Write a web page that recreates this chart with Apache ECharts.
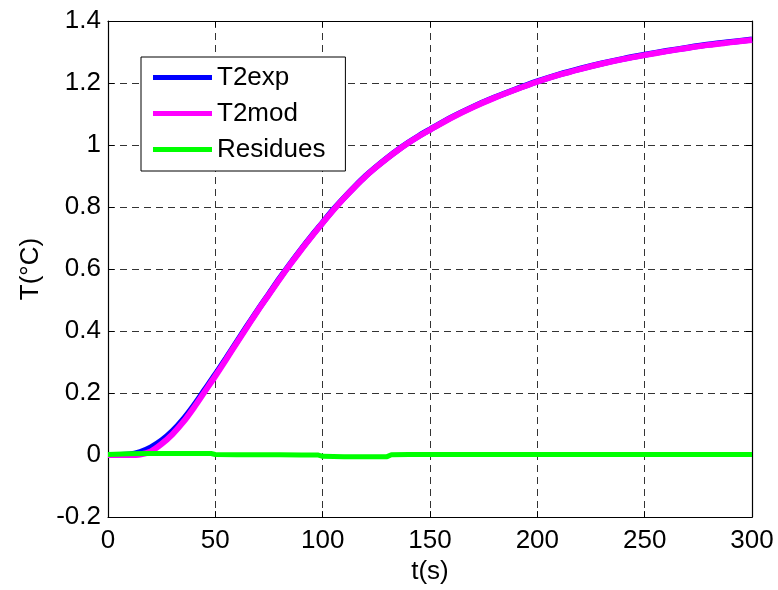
<!DOCTYPE html>
<html>
<head>
<meta charset="utf-8">
<script src="https://cdn.jsdelivr.net/npm/echarts@6/dist/echarts.min.js"></script>
<style>
html,body{margin:0;padding:0;background:#fff;}
#chart{width:778px;height:590px;}
</style>
</head>
<body>
<div id="chart"></div>
<script>
// ---- data ----
var timeExp = [0,10,15,20,25,30,35,40,45,50,55,60,65,70,75,80,85,90,95,100,105,110,115,120,125,130,135,140,145,150,160,170,180,190,200,210,220,230,240,250,260,270,280,290,300];
var t2exp   = [0,0.002,0.01,0.025,0.047,0.077,0.115,0.16,0.21,0.26,0.312,0.365,0.418,0.47,0.52,0.57,0.618,0.664,0.708,0.75,0.792,0.83,0.866,0.9,0.93,0.958,0.984,1.008,1.03,1.05,1.089,1.123,1.153,1.18,1.205,1.227,1.246,1.263,1.278,1.291,1.303,1.314,1.324,1.332,1.34];
var timeMod = [0,10,15,20,25,30,35,40,45,50,55,60,65,70,75,80,85,90,95,100,105,110,115,120,125,130,135,140,145,150,160,170,180,190,200,210,220,230,240,250,260,270,280,290,300];
var t2mod   = [0,0,0.002,0.012,0.036,0.067,0.106,0.153,0.204,0.255,0.308,0.362,0.415,0.468,0.518,0.568,0.616,0.662,0.706,0.749,0.79,0.829,0.865,0.899,0.929,0.957,0.983,1.007,1.029,1.049,1.088,1.122,1.152,1.179,1.204,1.226,1.245,1.262,1.277,1.29,1.302,1.313,1.323,1.331,1.339];
var timeRes  = [0,10,20,30,40,48,50,60,70,80,90,98,100,110,120,130,132,140,160,200,250,300];
var residues = [0.002,0.004,0.005,0.005,0.005,0.005,0.002,0.001,0.001,0.001,0,0,-0.004,-0.005,-0.005,-0.005,0.001,0.002,0.002,0.002,0.002,0.002];
var xTickLabels = ['0','50','100','150','200','250','300'];
var yTickLabels = ['-0.2','0','0.2','0.4','0.6','0.8','1','1.2','1.4'];
var seriesNames = ['T2exp','T2mod','Residues'];

function pairs(xs, ys){ return xs.map(function(x,i){ return [x, ys[i]]; }); }

var FONT = "'Liberation Sans', Arial, sans-serif";
var chart = echarts.init(document.getElementById('chart'), null, {renderer:'canvas'});

var gridLine = {show:true, lineStyle:{color:'#333', width:1, type:[7,5]}};
var axisLine = {show:true, onZero:false, lineStyle:{color:'#000', width:1.2}};
var tickIn = {show:true, inside:true, length:6, lineStyle:{color:'#000', width:1}};

chart.setOption({
  animation:false,
  backgroundColor:'#fff',
  grid:{left:108, right:26, top:21, bottom:67, containLabel:false},
  legend:{
    data:seriesNames,
    orient:'vertical',
    left:141, top:57,
    padding:[7,20,8,12],
    itemGap:9,
    itemWidth:59, itemHeight:5,
    icon:'rect',
    backgroundColor:'#fff',
    borderColor:'#000', borderWidth:1,
    textStyle:{fontFamily:FONT, fontSize:26, color:'#000', lineHeight:27}
  },
  xAxis:[{
    type:'value', min:0, max:300, interval:50, position:'bottom',
    name:'t(s)', nameLocation:'middle', nameGap:39,
    nameTextStyle:{fontFamily:FONT, fontSize:26, color:'#000'},
    axisLine:axisLine, axisTick:tickIn, splitLine:gridLine,
    axisLabel:{fontFamily:FONT, fontSize:26, color:'#000', margin:11,
      formatter:function(v){ return xTickLabels[Math.round(v/50)]; }}
  },{
    type:'value', min:0, max:300, interval:50, position:'top',
    axisLine:axisLine, axisTick:tickIn, splitLine:{show:false}, axisLabel:{show:false}
  }],
  yAxis:[{
    type:'value', min:-0.2, max:1.4, interval:0.2, position:'left',
    name:'T(°C)', nameLocation:'middle', nameGap:64, nameRotate:90,
    nameTextStyle:{fontFamily:FONT, fontSize:26, color:'#000'},
    axisLine:axisLine, axisTick:tickIn, splitLine:gridLine,
    axisLabel:{fontFamily:FONT, fontSize:26, color:'#000', margin:7,
      formatter:function(v){ return yTickLabels[Math.round((v+0.2)/0.2)]; }}
  },{
    type:'value', min:-0.2, max:1.4, interval:0.2, position:'right',
    axisLine:axisLine, axisTick:tickIn, splitLine:{show:false}, axisLabel:{show:false}
  }],
  series:[{
    name:seriesNames[0], type:'line', data:pairs(timeExp,t2exp), smooth:0.3,
    showSymbol:false, symbol:'none', color:'#0000ff',
    lineStyle:{color:'#0000ff', width:6}, z:2
  },{
    name:seriesNames[1], type:'line', data:pairs(timeMod,t2mod), smooth:0.3,
    showSymbol:false, symbol:'none', color:'#ff00ff',
    lineStyle:{color:'#ff00ff', width:6}, z:3
  },{
    name:seriesNames[2], type:'line', data:pairs(timeRes,residues),
    showSymbol:false, symbol:'none', color:'#00ff00',
    lineStyle:{color:'#00ff00', width:5}, z:4
  }]
});
</script>
</body>
</html>
